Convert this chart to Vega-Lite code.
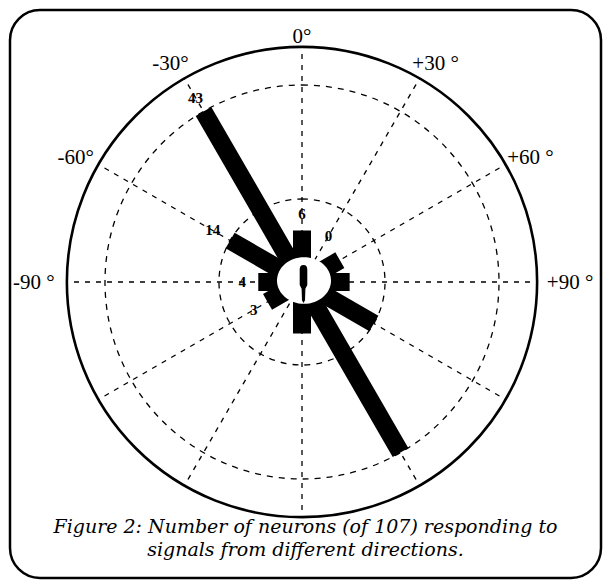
{
  "$schema": "https://vega.github.io/schema/vega-lite/v6.json",
  "width": 591,
  "height": 568,
  "autosize": "none",
  "padding": {"left": 10, "top": 10, "right": 4, "bottom": 3},
  "background": "white",
  "config": {
    "view": {"stroke": null},
    "font": "Liberation Serif"
  },
  "title": {
    "text": "Figure 2: Number of neurons (of 107) responding to",
    "subtitle": "signals from different directions.",
    "orient": "bottom",
    "anchor": "middle",
    "offset": -61,
    "font": "DejaVu Serif",
    "fontSize": 19,
    "fontStyle": "italic",
    "fontWeight": "normal",
    "color": "black",
    "subtitleFont": "DejaVu Serif",
    "subtitleFontSize": 19,
    "subtitleFontStyle": "italic",
    "subtitleColor": "black",
    "subtitlePadding": 4
  },
  "datasets": {
    "bars": [
      {"dir": -30, "count": 43, "label": "43"},
      {"dir": 150, "count": 43, "label": ""},
      {"dir": -60, "count": 14, "label": "14"},
      {"dir": 120, "count": 14, "label": ""},
      {"dir": 0, "count": 6, "label": "6"},
      {"dir": 180, "count": 6, "label": ""},
      {"dir": 30, "count": 0, "label": "0"},
      {"dir": 60, "count": 4, "label": ""},
      {"dir": 90, "count": 5, "label": ""},
      {"dir": -90, "count": 4, "label": "4"},
      {"dir": -120, "count": 3, "label": "3"}
    ],
    "spokes": [
      {"dir": -150}, {"dir": -120}, {"dir": -90}, {"dir": -60}, {"dir": -30}, {"dir": 0},
      {"dir": 30}, {"dir": 60}, {"dir": 90}, {"dir": 120}, {"dir": 150}, {"dir": 180}
    ],
    "rings": [
      {"r": 14, "kind": "grid"},
      {"r": 43, "kind": "grid"},
      {"r": 52.7, "kind": "rim"}
    ],
    "angles": [
      {"dir": -90, "label": "-90 °"},
      {"dir": -60, "label": "-60°"},
      {"dir": -30, "label": "-30°"},
      {"dir": 0, "label": "0°"},
      {"dir": 30, "label": "+30 °"},
      {"dir": 60, "label": "+60 °"},
      {"dir": 90, "label": "+90 °"}
    ],
    "head": [{"part": "head"}]
  },
  "layer": [
    {
      "data": {"name": "head"},
      "mark": {"type": "rect", "filled": false, "fill": null, "stroke": "black", "strokeWidth": 2.5, "cornerRadius": 30},
      "encoding": {}
    },
    {
      "data": {"name": "spokes"},
      "mark": {"type": "arc", "filled": false, "stroke": "black", "strokeWidth": 1.3, "strokeDash": [5, 6], "strokeDashOffset": 3.9, "innerRadius": 0, "xOffset": -3.5, "yOffset": -12},
      "encoding": {
        "theta": {"field": "dir", "type": "quantitative", "stack": null, "scale": {"type": "linear", "domain": [-180, 180], "range": [-3.14159265, 3.14159265], "zero": false, "nice": false}},
        "theta2": {"field": "dir"},
        "radius": {"datum": 52.7, "type": "quantitative", "stack": null, "scale": {"type": "linear", "domain": [0, 43], "range": [28, 197], "zero": false, "nice": false}}
      }
    },
    {
      "data": {"name": "rings"},
      "transform": [{"filter": "datum.kind == 'grid'"}],
      "mark": {"type": "arc", "filled": false, "stroke": "black", "strokeWidth": 1.3, "strokeDash": [6, 6], "theta": 0, "theta2": 6.2832, "innerRadius": 0, "xOffset": -3.5, "yOffset": -12},
      "encoding": {
        "radius": {"field": "r", "type": "quantitative", "stack": null, "scale": {"type": "linear", "domain": [0, 43], "range": [28, 197], "zero": false, "nice": false}}
      }
    },
    {
      "data": {"name": "rings"},
      "transform": [{"filter": "datum.kind == 'rim'"}],
      "mark": {"type": "arc", "filled": false, "stroke": "black", "strokeWidth": 2.6, "theta": 0, "theta2": 6.2832, "innerRadius": 0, "xOffset": -3.5, "yOffset": -12},
      "encoding": {
        "radius": {"field": "r", "type": "quantitative", "stack": null, "scale": {"type": "linear", "domain": [0, 43], "range": [28, 197], "zero": false, "nice": false}}
      }
    },
    {
      "data": {"name": "bars"},
      "transform": [{"filter": "datum.count > 0"}],
      "mark": {"type": "arc", "filled": false, "stroke": "black", "strokeWidth": 18, "strokeCap": "butt", "strokeJoin": "bevel", "innerRadius": 8, "xOffset": -3.5, "yOffset": -12},
      "encoding": {
        "theta": {"field": "dir", "type": "quantitative", "stack": null, "scale": {"type": "linear", "domain": [-180, 180], "range": [-3.14159265, 3.14159265], "zero": false, "nice": false}},
        "theta2": {"field": "dir"},
        "radius": {"field": "count", "type": "quantitative", "stack": null, "scale": {"type": "linear", "domain": [0, 43], "range": [28, 197], "zero": false, "nice": false}}
      }
    },
    {
      "data": {"name": "head"},
      "mark": {"type": "point", "shape": "M-1,0A1,0.865 0 1,0 1,0A1,0.865 0 1,0 -1,0Z", "size": 2916, "filled": true, "fill": "white", "fillOpacity": 1, "opacity": 1, "strokeWidth": 0, "xOffset": -1.5, "yOffset": -13.5},
      "encoding": {}
    },
    {
      "data": {"name": "head"},
      "mark": {"type": "point", "shape": "M0,-1 C0.15,-1 0.2,-0.9 0.2,-0.75 L0.2,0.05 L0.1,0.25 L0.08,0.85 L0,1 L-0.08,0.85 L-0.1,0.25 L-0.2,0.05 L-0.2,-0.75 C-0.2,-0.9 -0.15,-1 0,-1 Z", "size": 1444, "filled": true, "fill": "black", "fillOpacity": 1, "opacity": 1, "strokeWidth": 0, "xOffset": -2, "yOffset": -10},
      "encoding": {}
    },
    {
      "data": {"name": "bars"},
      "transform": [{"filter": "datum.label != ''"}],
      "mark": {"type": "text", "font": "Liberation Serif", "fontSize": 15, "fontWeight": "bold", "color": "black", "align": "center", "baseline": "middle", "radiusOffset": {"expr": "datum.count == 0 ? 25 : (datum.count == 14 ? 20 : 16)"}, "xOffset": -3.5, "yOffset": -12},
      "encoding": {
        "theta": {"field": "dir", "type": "quantitative", "stack": null, "scale": {"type": "linear", "domain": [-180, 180], "range": [-3.14159265, 3.14159265], "zero": false, "nice": false}},
        "radius": {"field": "count", "type": "quantitative", "stack": null, "scale": {"type": "linear", "domain": [0, 43], "range": [28, 197], "zero": false, "nice": false}},
        "text": {"field": "label", "type": "nominal"}
      }
    },
    {
      "data": {"name": "angles"},
      "mark": {"type": "text", "font": "Liberation Serif", "fontSize": 21, "color": "black", "align": "center", "baseline": "middle",
        "radiusOffset": {"expr": "datum.dir == 0 ? 11 : (abs(datum.dir) == 90 ? 33 : 24)"},
        "dy": {"expr": "datum.dir == 0 || abs(datum.dir) == 90 ? 1 : 6"},
        "dx": {"expr": "datum.dir > 0 && datum.dir < 90 ? 4 : (datum.dir < 0 && datum.dir > -90 ? -2 : 0)"},
        "xOffset": -3.5, "yOffset": -12},
      "encoding": {
        "theta": {"field": "dir", "type": "quantitative", "stack": null, "scale": {"type": "linear", "domain": [-180, 180], "range": [-3.14159265, 3.14159265], "zero": false, "nice": false}},
        "radius": {"datum": 52.7, "type": "quantitative", "stack": null, "scale": {"type": "linear", "domain": [0, 43], "range": [28, 197], "zero": false, "nice": false}},
        "text": {"field": "label", "type": "nominal"}
      }
    }
  ]
}
